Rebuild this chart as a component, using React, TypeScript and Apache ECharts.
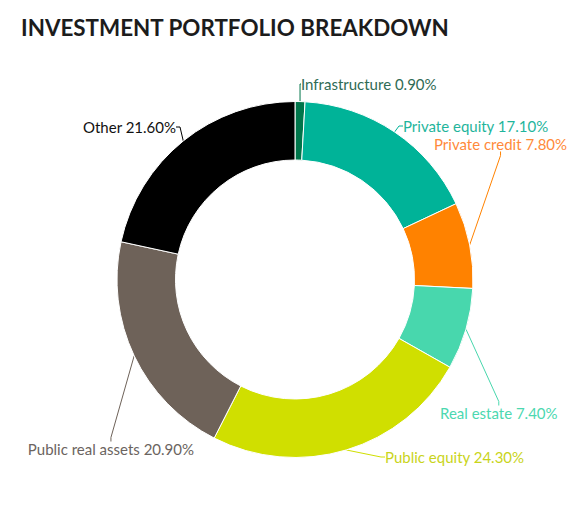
import { useEffect, useRef } from 'react';
import * as echarts from 'echarts';

const categories = [
  'Infrastructure',
  'Private equity',
  'Private credit',
  'Real estate',
  'Public equity',
  'Public real assets',
  'Other',
];
const shares = [0.9, 17.1, 7.8, 7.4, 24.3, 20.9, 21.6];
const sliceColors = ['#00754a', '#00b398', '#ff8200', '#48d7ad', '#d0df00', '#6e6259', '#000000'];
const labelColors = ['#2f6b55', '#1fb59c', '#ff8a3a', '#4cd8b0', '#c9d41a', '#6b6460', '#111111'];

// where each label sits (text anchor)
const labelSpots: { x: number; y: number; align: 'left' | 'right' }[] = [
  { x: 301, y: 84, align: 'left' },
  { x: 403, y: 126, align: 'left' },
  { x: 434, y: 144, align: 'left' },
  { x: 440, y: 413, align: 'left' },
  { x: 385, y: 457, align: 'left' },
  { x: 194, y: 449, align: 'right' },
  { x: 176, y: 127, align: 'right' },
];

export default function App() {
  const chartRef = useRef<HTMLDivElement>(null);

  useEffect(() => {
    if (!chartRef.current) return;
    const chart = echarts.init(chartRef.current, undefined, { renderer: 'svg' });
    chart.setOption({
      animation: false,
      title: {
        text: 'INVESTMENT PORTFOLIO BREAKDOWN',
        left: 21,
        top: 16,
        padding: 0,
        textStyle: { fontFamily: 'Lato', fontWeight: 'bold', fontSize: 22.4, color: '#1c1c1c' },
      },
      series: [
        {
          type: 'pie',
          center: [295, 279.5],
          radius: [119.5, 178],
          startAngle: 90,
          clockwise: true,
          avoidLabelOverlap: false,
          itemStyle: { borderColor: '#ffffff', borderWidth: 1 },
          label: {
            show: true,
            position: 'outside',
            fontFamily: 'Lato',
            fontSize: 15,
            formatter: (p: { name: string; value: number }) => `${p.name} ${p.value.toFixed(2)}%`,
          },
          labelLine: { show: true, length: 6, length2: 4, smooth: false, lineStyle: { width: 1 } },
          labelLayout: (params: { dataIndex: number }) => {
            const s = labelSpots[params.dataIndex];
            return { x: s.x, y: s.y, align: s.align, verticalAlign: 'middle' };
          },
          emphasis: { disabled: true },
          data: categories.map((name, i) => ({
            name,
            value: shares[i],
            itemStyle: { color: sliceColors[i] },
            label: { color: labelColors[i] },
          })),
        },
      ],
    });
    return () => chart.dispose();
  }, []);

  return (
    <div
      ref={chartRef}
      style={{ position: 'absolute', left: 0, top: 0, width: 584, height: 509, background: '#ffffff' }}
    />
  );
}
